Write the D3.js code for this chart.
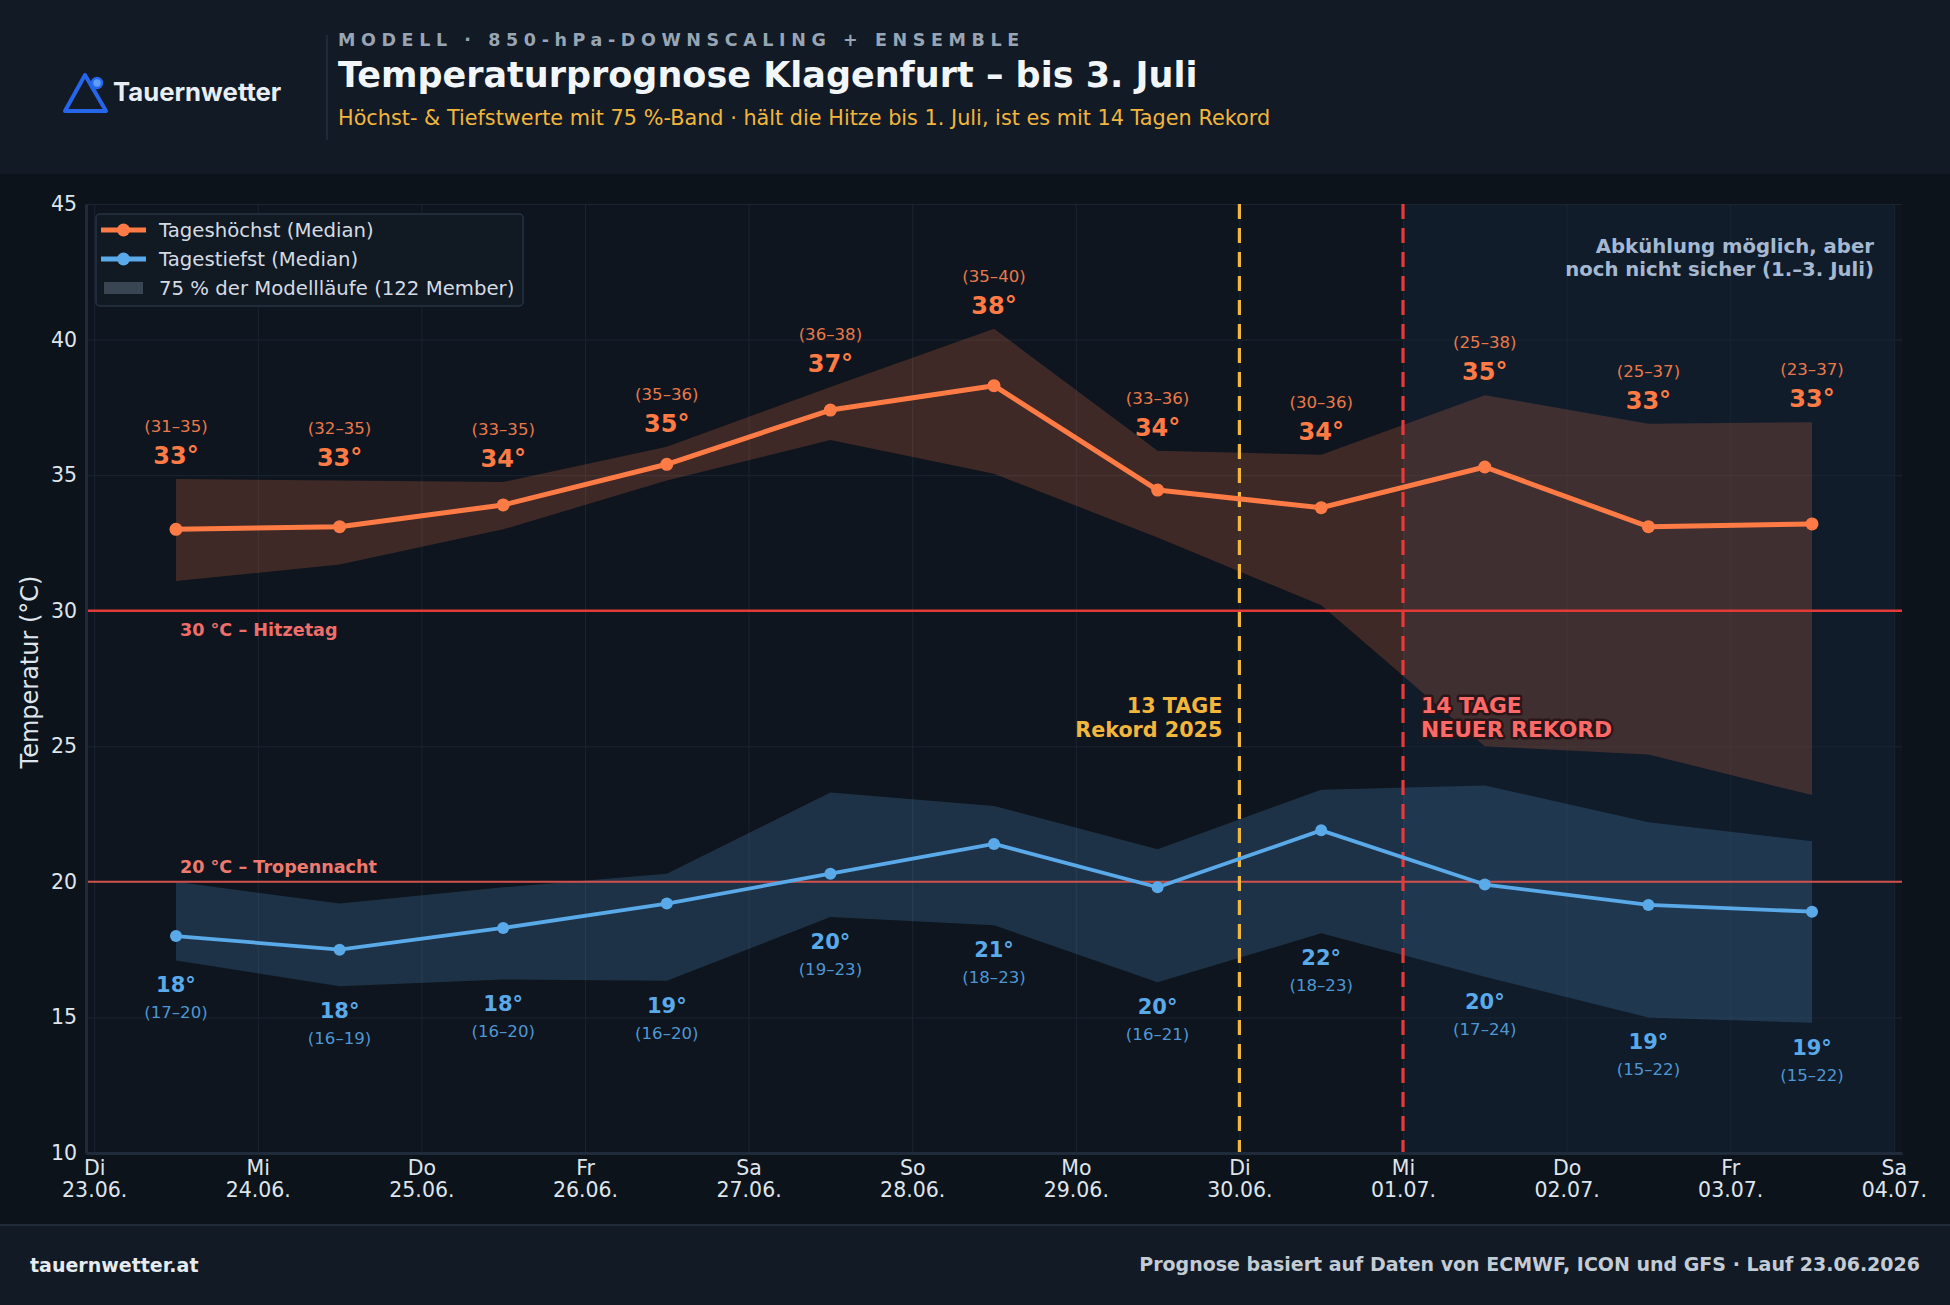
<!DOCTYPE html>
<html>
<head>
<meta charset="utf-8">
<script src="https://cdn.jsdelivr.net/npm/d3@7"></script>
<style>
  body { margin: 0; background: #0d131b; }
  svg { display: block; font-family: "DejaVu Sans", sans-serif; }
</style>
</head>
<body>
<div id="chart"></div>
<script>
// DATA

let day_names = ["Di", "Mi", "Do", "Fr", "Sa", "So", "Mo", "Di", "Mi", "Do", "Fr", "Sa"]
let day_dates = ["23.06.", "24.06.", "25.06.", "26.06.", "27.06.", "28.06.", "29.06.", "30.06.", "01.07.", "02.07.", "03.07.", "04.07."]

// one value per forecast day (noon of 23.06. ... 03.07.)
let high_median = [33.0, 33.1, 33.9, 35.4, 37.4, 38.3, 34.45, 33.8, 35.3, 33.1, 33.2]
let high_band_lo = [31.1, 31.7, 33.0, 34.8, 36.3, 35.05, 32.7, 30.2, 25.0, 24.7, 23.2]
let high_band_hi = [34.86, 34.8, 34.75, 36.05, 38.25, 40.4, 35.9, 35.75, 37.95, 36.9, 36.95]

let low_median = [18.0, 17.5, 18.3, 19.2, 20.3, 21.4, 19.8, 21.9, 19.9, 19.15, 18.9]
let low_band_lo = [17.1, 16.15, 16.4, 16.35, 18.7, 18.4, 16.3, 18.1, 16.5, 15.0, 14.8]
let low_band_hi = [20.0, 19.2, 19.8, 20.3, 23.3, 22.8, 21.2, 23.4, 23.55, 22.2, 21.5]

let y_ticks = [10, 15, 20, 25, 30, 35, 40, 45]
let thresholds = [
    {value: 30, label: "30 °C – Hitzetag"},
    {value: 20, label: "20 °C – Tropennacht"}
]
let record_lines = [
    {day: 7, lines: ["13 TAGE", "Rekord 2025"]},
    {day: 8, lines: ["14 TAGE", "NEUER REKORD"]}
]
let cooling_span = [8, 11]

let high_data = high_median.map((d, i) => ({x: i + 0.5, median: d, lo: high_band_lo[i], hi: high_band_hi[i]}))
let low_data = low_median.map((d, i) => ({x: i + 0.5, median: d, lo: low_band_lo[i], hi: low_band_hi[i]}))

// COLORS
let c_high = "#ff7b45", c_low = "#5aa9e8", c_yellow = "#f2b63d", c_red = "#e8393a"

// CHART AREA
let W = 1950, H = 1305
let plot = {left: 86, right: 1902, top: 204, bottom: 1153}

let svg = d3.select("#chart").append("svg")
    .attr("width", W)
    .attr("height", H)

svg.append("rect").attr("width", W).attr("height", H).attr("fill", "#0d131b")

// header + footer bands
svg.append("rect").attr("x", 0).attr("y", 0).attr("width", W).attr("height", 174).attr("fill", "#111a25")
svg.append("rect").attr("x", 0).attr("y", 1225).attr("width", W).attr("height", 80).attr("fill", "#111a25")
svg.append("line").attr("x1", 0).attr("x2", W).attr("y1", 1225).attr("y2", 1225)
    .attr("stroke", "#1f2a38").attr("stroke-width", 2)

// SCALES
let x_scale = d3.scaleLinear()
    .domain([-0.05, 11.05])
    .range([plot.left, plot.right])

let y_scale = d3.scaleLinear()
    .domain([10, 45])
    .range([plot.bottom, plot.top])

// plot background
svg.append("rect")
    .attr("x", plot.left).attr("y", plot.top)
    .attr("width", plot.right - plot.left).attr("height", plot.bottom - plot.top)
    .attr("fill", "#0e151e")

// uncertain cooling period
svg.append("rect")
    .attr("x", x_scale(cooling_span[0]))
    .attr("y", plot.top)
    .attr("width", x_scale(cooling_span[1]) - x_scale(cooling_span[0]))
    .attr("height", plot.bottom - plot.top)
    .attr("fill", "#111c2b")

// GRID
svg.append("g")
    .attr("transform", "translate(0," + plot.bottom + ")")
    .call(d3.axisBottom(x_scale).tickValues(d3.range(0, 12)).tickSize(-(plot.bottom - plot.top)).tickFormat(""))
    .call(g => g.select(".domain").remove())
    .call(g => g.selectAll("line").attr("stroke", "#1a2532").attr("stroke-width", 1))

svg.append("g")
    .attr("transform", "translate(" + plot.left + ",0)")
    .call(d3.axisLeft(y_scale).tickValues(y_ticks).tickSize(-(plot.right - plot.left)).tickFormat(""))
    .call(g => g.select(".domain").remove())
    .call(g => g.selectAll("line").attr("stroke", "#1a2532").attr("stroke-width", 1))

// BANDS
let band = d3.area()
    .x(d => x_scale(d.x))
    .y0(d => y_scale(d.lo))
    .y1(d => y_scale(d.hi))

svg.append("path").datum(high_data)
    .attr("d", band)
    .attr("fill", c_high).attr("fill-opacity", 0.2)

svg.append("path").datum(low_data)
    .attr("d", band)
    .attr("fill", c_low).attr("fill-opacity", 0.2)

// THRESHOLDS
thresholds.forEach((t, i) => {
    svg.append("line")
        .attr("x1", plot.left).attr("x2", plot.right)
        .attr("y1", y_scale(t.value)).attr("y2", y_scale(t.value))
        .attr("stroke", i == 0 ? "#e23a36" : "#d2504c")
        .attr("stroke-width", i == 0 ? 2.5 : 2)
    svg.append("text")
        .attr("x", x_scale(0.5) + 4)
        .attr("y", y_scale(t.value) + (i == 0 ? 25 : -9))
        .attr("fill", i == 0 ? "#f06e6a" : "#ee7a6e")
        .attr("font-size", 17.6).attr("font-weight", "bold")
        .text(t.label)
})

// RECORD LINES
record_lines.forEach((r, i) => {
    let xr = x_scale(r.day)
    svg.append("line")
        .attr("x1", xr).attr("x2", xr)
        .attr("y1", plot.top).attr("y2", plot.bottom)
        .attr("stroke", i == 0 ? c_yellow : c_red)
        .attr("stroke-width", 3.2)
        .attr("stroke-dasharray", "15,9")
    let txt = svg.append("text")
        .attr("x", i == 0 ? xr - 17 : xr + 18)
        .attr("text-anchor", i == 0 ? "end" : "start")
        .attr("font-size", i == 0 ? 20.7 : 21.8)
        .attr("font-weight", "bold")
        .attr("fill", i == 0 ? c_yellow : "#ff6a68")
    if (i == 1) {
        txt.attr("stroke", "#2a1618").attr("stroke-width", 5).attr("paint-order", "stroke").attr("stroke-linejoin", "round")
    }
    r.lines.forEach((l, j) => {
        txt.append("tspan").attr("x", i == 0 ? xr - 17 : xr + 18).attr("y", 713 + j * 24).text(l)
    })
})

// cooling note
let note = svg.append("text")
    .attr("text-anchor", "end")
    .attr("font-size", 19.7).attr("font-weight", "bold")
    .attr("fill", "#a4b8d2")
;["Abkühlung möglich, aber", "noch nicht sicher (1.–3. Juli)"].forEach((l, j) => {
    note.append("tspan").attr("x", 1874).attr("y", 253 + j * 23).text(l)
})

// MEDIAN LINES
let line = d3.line()
    .x(d => x_scale(d.x))
    .y(d => y_scale(d.median))

svg.append("path").datum(high_data)
    .attr("d", line)
    .attr("fill", "none").attr("stroke", c_high).attr("stroke-width", 5).attr("stroke-linejoin", "round")

svg.append("path").datum(low_data)
    .attr("d", line)
    .attr("fill", "none").attr("stroke", c_low).attr("stroke-width", 3.8).attr("stroke-linejoin", "round")

svg.selectAll(".dot-high").data(high_data).enter()
    .append("circle")
    .attr("class", "dot-high")
    .attr("cx", d => x_scale(d.x)).attr("cy", d => y_scale(d.median))
    .attr("r", 6.5).attr("fill", c_high)

svg.selectAll(".dot-low").data(low_data).enter()
    .append("circle")
    .attr("class", "dot-low")
    .attr("cx", d => x_scale(d.x)).attr("cy", d => y_scale(d.median))
    .attr("r", 6).attr("fill", c_low)

// VALUE LABELS
let high_labels = svg.selectAll(".lab-high").data(high_data).enter().append("g")
high_labels.append("text")
    .attr("x", d => x_scale(d.x)).attr("y", d => y_scale(d.hi) - 15)
    .attr("text-anchor", "middle").attr("font-size", 24).attr("font-weight", "bold")
    .attr("fill", c_high)
    .text(d => Math.round(d.median) + "°")
high_labels.append("text")
    .attr("x", d => x_scale(d.x)).attr("y", d => y_scale(d.hi) - 47)
    .attr("text-anchor", "middle").attr("font-size", 16.6)
    .attr("fill", "#e8794a")
    .text(d => "(" + Math.round(d.lo) + "–" + Math.round(d.hi) + ")")

let low_labels = svg.selectAll(".lab-low").data(low_data).enter().append("g")
low_labels.append("text")
    .attr("x", d => x_scale(d.x)).attr("y", d => y_scale(d.lo) + 32)
    .attr("text-anchor", "middle").attr("font-size", 21).attr("font-weight", "bold")
    .attr("fill", c_low)
    .text(d => Math.round(d.median) + "°")
low_labels.append("text")
    .attr("x", d => x_scale(d.x)).attr("y", d => y_scale(d.lo) + 58)
    .attr("text-anchor", "middle").attr("font-size", 16.6)
    .attr("fill", "#4f97d2")
    .text(d => "(" + Math.round(d.lo) + "–" + Math.round(d.hi) + ")")

// AXIS
let x_axis = d3.axisBottom(x_scale)
    .tickValues(d3.range(0, 12))
    .tickSize(0)
    .tickPadding(8)
    .tickFormat(d => day_names[d])

svg.append("g")
    .attr("class", "x-axis axis")
    .attr("transform", "translate(0," + plot.bottom + ")")
    .call(x_axis)
    .call(g => g.select(".domain").attr("stroke", "#1f2b3a").attr("stroke-width", 3))
    .call(g => g.selectAll("text")
        .attr("fill", "#dfe5ec").attr("font-size", 20.5).attr("font-family", "DejaVu Sans")
        .attr("dy", "0.68em")
        .each(function(d) {
            d3.select(this).append("tspan").attr("x", 0).attr("dy", "1.08em").text(day_dates[d])
        }))

svg.append("g")
    .attr("class", "y-axis axis")
    .attr("transform", "translate(" + plot.left + ",0)")
    .call(d3.axisLeft(y_scale).tickValues(y_ticks).tickSize(0).tickPadding(9))
    .call(g => g.select(".domain").attr("stroke", "#1f2b3a").attr("stroke-width", 3))
    .call(g => g.selectAll("text").attr("fill", "#dfe5ec").attr("font-size", 20.5).attr("font-family", "DejaVu Sans"))

svg.append("text")
    .attr("transform", "translate(38,672) rotate(-90)")
    .attr("text-anchor", "middle")
    .attr("font-size", 24).attr("fill", "#dfe5ec")
    .text("Temperatur (°C)")

// LEGEND
let legend = svg.append("g").attr("transform", "translate(96,214)")
legend.append("rect")
    .attr("width", 427).attr("height", 92).attr("rx", 4)
    .attr("fill", "#111923").attr("stroke", "#263344").attr("stroke-width", 1.5)
let legend_items = [
    {label: "Tageshöchst (Median)", color: c_high, type: "line"},
    {label: "Tagestiefst (Median)", color: c_low, type: "line"},
    {label: "75 % der Modellläufe (122 Member)", color: "#3a4553", type: "patch"}
]
legend_items.forEach((l, i) => {
    let yy = 16 + i * 29
    if (l.type == "line") {
        legend.append("line").attr("x1", 5).attr("x2", 50).attr("y1", yy).attr("y2", yy)
            .attr("stroke", l.color).attr("stroke-width", 5)
        legend.append("circle").attr("cx", 27.5).attr("cy", yy).attr("r", 6.5).attr("fill", l.color)
    } else {
        legend.append("rect").attr("x", 8).attr("y", yy - 6).attr("width", 39).attr("height", 12).attr("fill", l.color)
    }
    legend.append("text").attr("x", 63).attr("y", yy + 7)
        .attr("font-size", 19.7).attr("fill", "#d4dbe4")
        .text(l.label)
})

// HEADER
svg.append("path")
    .attr("d", "M65,111 L85,75 L106,111 Z")
    .attr("fill", "none").attr("stroke", "#2566ea").attr("stroke-width", 4).attr("stroke-linejoin", "round")
svg.append("circle").attr("cx", 97).attr("cy", 83).attr("r", 5)
    .attr("fill", "#5d9ef2").attr("stroke", "#2566ea").attr("stroke-width", 2.5)
svg.append("text").attr("x", 113).attr("y", 101)
    .attr("font-family", "Inter, sans-serif").attr("font-weight", "bold").attr("font-size", 25.7)
    .attr("fill", "#e9eef4").text("Tauernwetter")
svg.append("line").attr("x1", 327).attr("x2", 327).attr("y1", 35).attr("y2", 140)
    .attr("stroke", "#233040").attr("stroke-width", 1.5)

svg.append("text").attr("x", 338).attr("y", 46)
    .attr("font-size", 17.5).attr("font-weight", "bold").attr("letter-spacing", 5.6)
    .attr("fill", "#98a5b4").text("MODELL · 850-hPa-DOWNSCALING + ENSEMBLE")
svg.append("text").attr("x", 338).attr("y", 87)
    .attr("font-size", 35).attr("font-weight", "bold")
    .attr("fill", "#f3f6f9").text("Temperaturprognose Klagenfurt – bis 3. Juli")
svg.append("text").attr("x", 338).attr("y", 125)
    .attr("font-size", 20.8)
    .attr("fill", c_yellow).text("Höchst- & Tiefstwerte mit 75 %-Band · hält die Hitze bis 1. Juli, ist es mit 14 Tagen Rekord")

// FOOTER
svg.append("text").attr("x", 30).attr("y", 1272)
    .attr("font-size", 19).attr("font-weight", "bold")
    .attr("fill", "#e6ebf0").text("tauernwetter.at")
svg.append("text").attr("x", 1920).attr("y", 1271).attr("text-anchor", "end")
    .attr("font-size", 19).attr("font-weight", "bold")
    .attr("fill", "#c3cbd5").text("Prognose basiert auf Daten von ECMWF, ICON und GFS · Lauf 23.06.2026")
</script>
</body>
</html>
